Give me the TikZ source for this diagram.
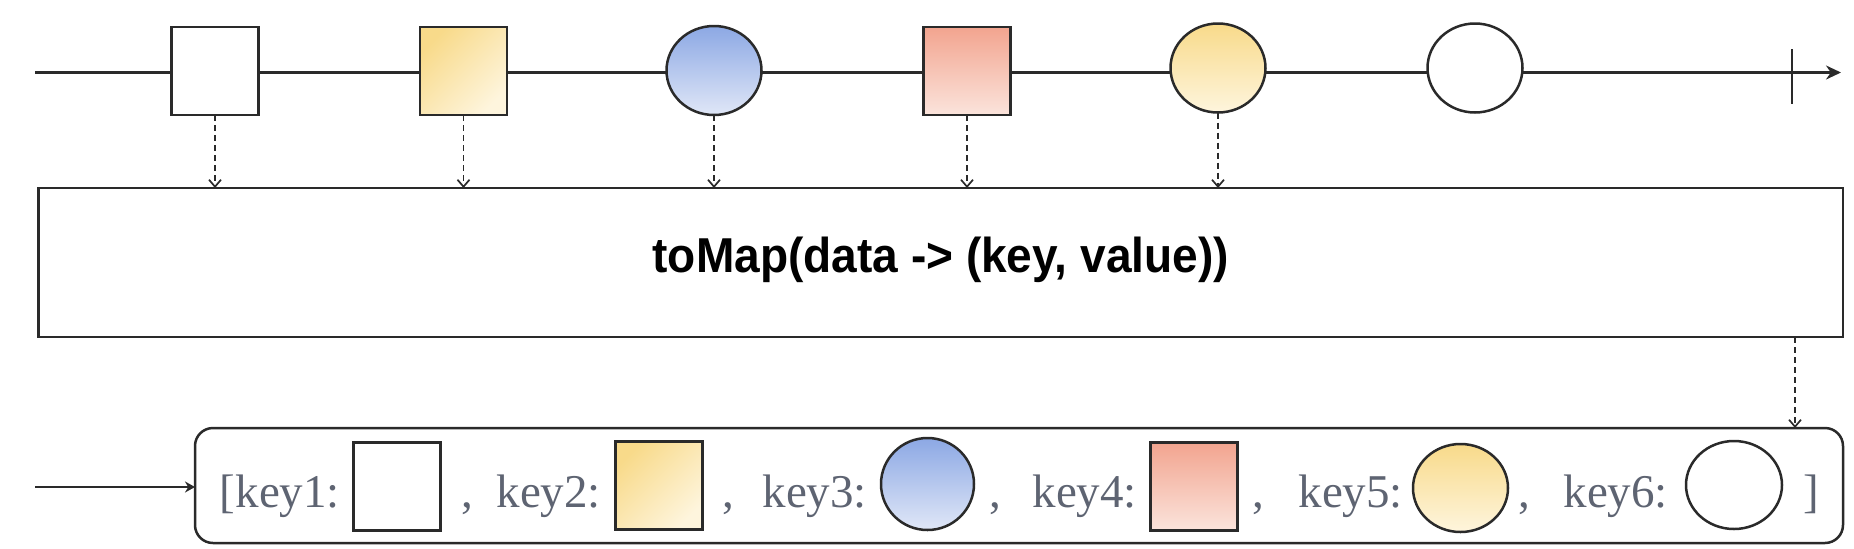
\documentclass[tikz,border=0pt]{standalone}
\usepackage{fontspec}
\setmainfont{Liberation Serif}
\newfontfamily\titlefont{Liberation Sans}
\usetikzlibrary{arrows.meta,shapes.geometric}
\definecolor{edge}{HTML}{2A2A2A}
\definecolor{keytext}{HTML}{5E6472}
\definecolor{yA}{HTML}{F8DA8A}
\definecolor{yB}{HTML}{FEF5DD}
\definecolor{bA}{HTML}{8CA8E4}
\definecolor{bB}{HTML}{E0E7F7}
\definecolor{rA}{HTML}{F2A48F}
\definecolor{rB}{HTML}{FBE4DC}
\tikzset{
  shapebox/.style={draw=edge, line width=1.25pt, inner sep=0pt, outer sep=0pt},
  sq/.style={shapebox, rectangle, minimum width=43.5pt, minimum height=44pt},
  el/.style={shapebox, ellipse, minimum width=47.5pt, minimum height=44.5pt},
  yellowdiag/.style={top color=yA, bottom color=yB, shading angle=45},
  yellowg/.style={top color=yA, bottom color=yB},
  blueg/.style={top color=bA, bottom color=bB},
  redg/.style={top color=rA, bottom color=rB},
  timeline/.style={draw=edge, line width=1.4pt, -{Stealth[length=7.5pt,width=7pt]}},
  dasharrow/.style={draw=edge, line width=0.85pt, dash pattern=on 3pt off 2pt, -{Straight Barb[length=3.5pt,width=6pt]}},
  inarrow/.style={draw=edge, line width=1.3pt, -{Stealth[length=5pt,width=5.5pt]}},
  keylabel/.style={text=keytext, inner sep=0pt, outer sep=0pt, font=\fontsize{23.5pt}{26pt}\selectfont},
}
\begin{document}
\begin{tikzpicture}[x=0.5pt, y=-0.5pt]
\useasboundingbox (0,0) rectangle (1854,548);
% timeline
\coordinate (ls) at (35,72.5);
\coordinate (le) at (1841,72.5);
\coordinate (tk) at (1792,72.5);
\draw[timeline] (ls) -- (le);
\draw[draw=edge, line width=1pt] ([yshift=11.75pt]tk) -- ([yshift=-15.75pt]tk);
% top items
\node[sq, fill=white] (t1) at (215,71) {};
\node[sq, yellowdiag] (t2) at (463.5,71) {};
\node[el, blueg] (t3) at (714,70.5) {};
\node[sq, redg] (t4) at (967,71) {};
\node[el, yellowg] (t5) at (1218,68) {};
\node[el, fill=white] (t6) at (1475,68) {};
% operator box
\node[shapebox, rectangle, minimum width=902.25pt, minimum height=74.5pt] (op) at (940.75,262.5) {};
\node[inner sep=0pt, anchor=base, font=\titlefont\bfseries\fontsize{24.5pt}{28pt}\selectfont] (title) at (940.75,272) {\scalebox{0.94}[1]{toMap(data -> (key, value))}};
\foreach \n in {t1,t2,t3,t4,t5} {
  \draw[dasharrow] (\n.south) -- (\n.south |- op.north);
}
% result box
\node[shapebox, rectangle, rounded corners=9pt, minimum width=824pt, minimum height=57.5pt] (res) at (1019,485.5) {};
\coordinate (in) at (35,487);
\draw[inarrow] (in) -- (in -| res.west);
\coordinate (dx) at (1795,0);
\draw[dasharrow] (op.south -| dx) -- (res.north -| dx);
% result items
\node[sq, fill=white] (r1) at (397,486.5) {};
\node[sq, yellowdiag] (r2) at (659,485.5) {};
\node[el, blueg, minimum width=46.5pt, minimum height=46pt] (r3) at (927.5,484) {};
\node[sq, redg] (r4) at (1194,486.5) {};
\node[el, yellowg, minimum height=44pt] (r5) at (1460.5,488) {};
\node[el, fill=white, minimum width=48pt, minimum height=44pt] (r6) at (1734,485) {};
% labels
\node[keylabel, anchor=base east] (k1) at (340,507) {[key1:};
\node[keylabel, anchor=base] (c1) at (467,507) {,};
\node[keylabel, anchor=base east] (k2) at (601,507) {key2:};
\node[keylabel, anchor=base] (c2) at (728,507) {,};
\node[keylabel, anchor=base east] (k3) at (867,507) {key3:};
\node[keylabel, anchor=base] (c3) at (995,507) {,};
\node[keylabel, anchor=base east] (k4) at (1137,507) {key4:};
\node[keylabel, anchor=base] (c4) at (1258,507) {,};
\node[keylabel, anchor=base east] (k5) at (1403,507) {key5:};
\node[keylabel, anchor=base] (c5) at (1524,507) {,};
\node[keylabel, anchor=base east] (k6) at (1668,507) {key6:};
\node[keylabel, anchor=base] (br) at (1811,507) {]};
\end{tikzpicture}
\end{document}
